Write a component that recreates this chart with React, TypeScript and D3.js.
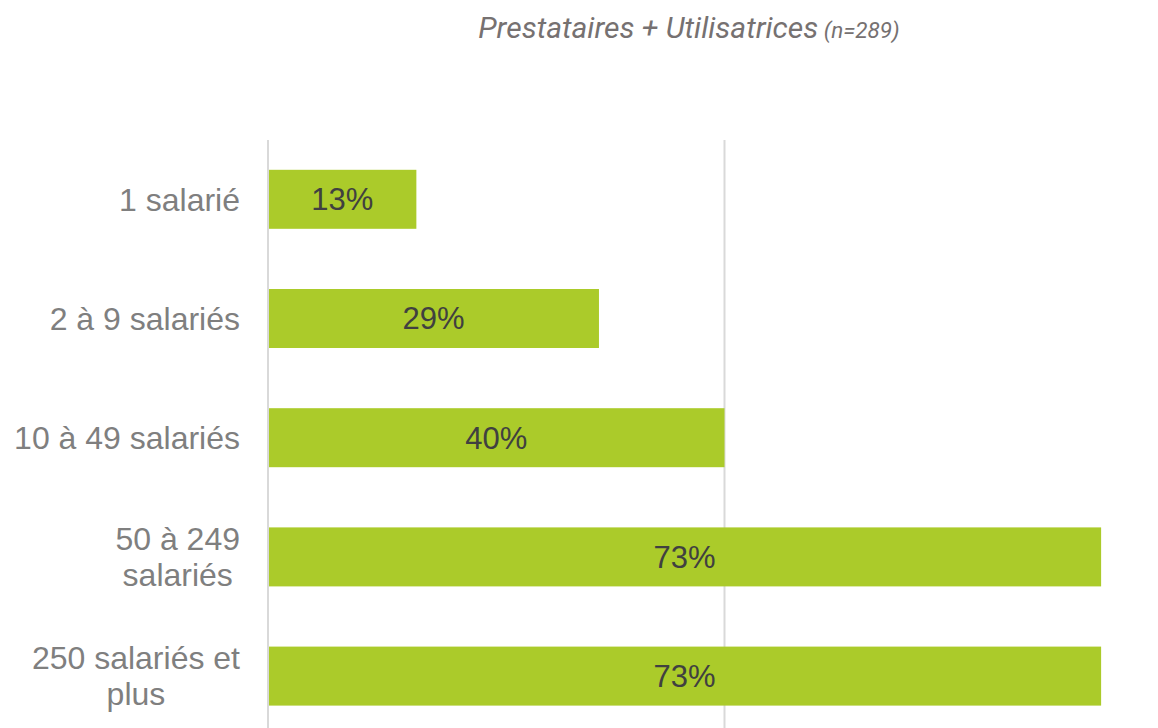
import React from "react";
import * as d3 from "d3";

const categories: string[][] = [
  ["1 salarié"],
  ["2 à 9 salariés"],
  ["10 à 49 salariés"],
  ["50 à 249", "salariés"],
  ["250 salariés et", "plus"],
];
const values: number[] = [0.13, 0.29, 0.4, 0.73, 0.73];
const gridTicks: number[] = [0, 0.4, 0.8];
const titleMain = "Prestataires + Utilisatrices";
const titleSub = "(n=289)";

const W = 1158;
const H = 728;
const LABEL_FONT = "32px 'Liberation Sans', Arial";

function measure(text: string): number {
  const c = document.createElement("canvas").getContext("2d");
  if (!c) return text.length * 16;
  c.font = LABEL_FONT;
  return c.measureText(text).width;
}

export default function App() {
  const x = d3.scaleLinear().domain([0, 0.8]).range([268, 1181]);
  const keys = categories.map((c) => c.join(" "));
  const y = d3
    .scaleBand<string>()
    .domain(keys)
    .range([140, 735.4])
    .paddingInner(0.505)
    .paddingOuter(0.25);
  const fmt = d3.format(".0%");
  const lineH = 36;
  const labelRight = 240;

  return (
    <svg
      width={W}
      height={H}
      style={{ position: "absolute", left: 0, top: 0, background: "#fff" }}
    >
      <text
        x={689}
        y={38}
        textAnchor="middle"
        fontFamily="Roboto"
        fontStyle="italic"
        fill="#767171"
        fontSize={30}
      >
        {titleMain}
        <tspan fontSize={22.5}> {titleSub}</tspan>
      </text>

      {gridTicks.map((t) => (
        <line
          key={t}
          x1={x(t)}
          x2={x(t)}
          y1={140}
          y2={740}
          stroke="#d9d9d9"
          strokeWidth={2}
        />
      ))}

      {keys.map((k, i) => {
        const y0 = y(k)!;
        const bw = y.bandwidth();
        const cy = y0 + bw / 2;
        const lines = categories[i];
        const maxW = d3.max(lines, (l) => measure(l)) || 0;
        const cx = labelRight - maxW / 2;
        return (
          <g key={k}>
            <rect
              x={x(0) + 1}
              y={y0}
              width={x(values[i]) - x(0) - 1}
              height={bw}
              fill="#ABCB2A"
            />
            <text
              x={(x(0) + x(values[i])) / 2}
              y={cy}
              dy="0.35em"
              textAnchor="middle"
              fontFamily="Liberation Sans, Arial"
              fontSize={31}
              fill="#404040"
            >
              {fmt(values[i])}
            </text>
            <text
              textAnchor="middle"
              fontFamily="Liberation Sans, Arial"
              fontSize={32}
              fill="#7f7f7f"
            >
              {lines.map((l, j) => (
                <tspan
                  key={j}
                  x={cx}
                  y={cy + (j - (lines.length - 1) / 2) * lineH}
                  dy="0.35em"
                >
                  {l}
                </tspan>
              ))}
            </text>
          </g>
        );
      })}
    </svg>
  );
}
